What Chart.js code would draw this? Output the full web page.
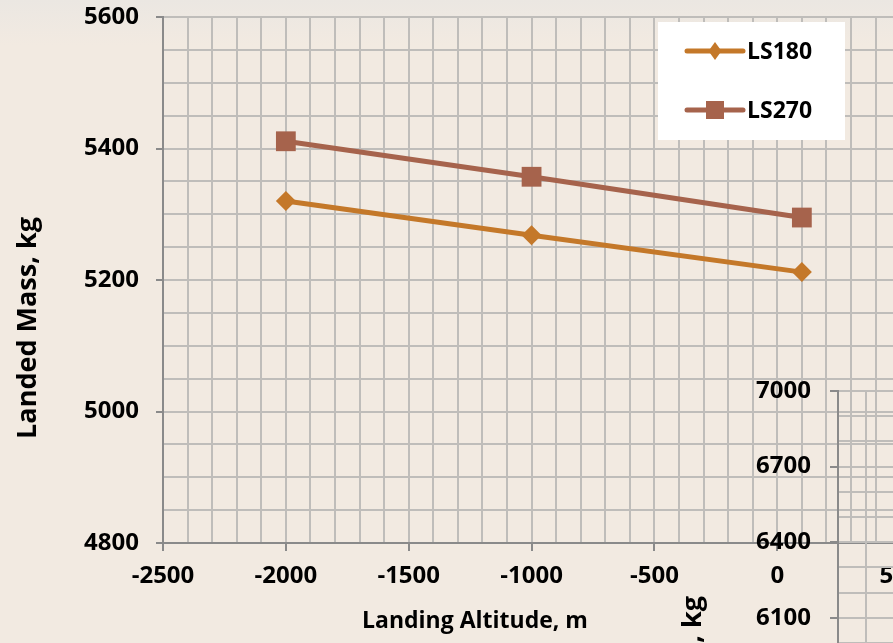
<!DOCTYPE html>
<html>
<head>
<meta charset="utf-8">
<script src="https://cdn.jsdelivr.net/npm/chart.js@4.4.1/dist/chart.umd.min.js"></script>
<style>
  html, body { margin: 0; padding: 0; width: 893px; height: 643px; overflow: hidden; }
  body { position: relative; background: linear-gradient(#ebe7e2 0px, #f2eae1 45px); }
  #main { position: absolute; left: 0; top: 0; }
  #inset { position: absolute; left: 674px; top: 371px; }
</style>
</head>
<body>
<canvas id="main" width="1037" height="643"></canvas>
<canvas id="inset" width="332" height="272"></canvas>
<script>
// Data
const altitudes = [-2000, -1000, 100];
const seriesNames = ['LS180', 'LS270'];
const ls180Mass = [5320, 5268, 5212];
const ls270Mass = [5411, 5357, 5295];
const seriesValues = [ls180Mass, ls270Mass];

// Axis ranges and tick steps
const xRange = [-2500, 1000];
const xGridStep = 100, xLabelStep = 500;
const yRange = [4800, 5600];
const yGridStep = 50, yLabelStep = 200;
const insetYRange = [6000, 7000];
const insetGridStep = 100, insetLabelStep = 300;

// Styles
const seriesColors = ['#c47829', '#a6634c'];
const seriesMarkers = ['rectRot', 'rect'];
const markerRadius = [10, 14];
const GRID = '#bfbdba';
const AXIS = '#8a8a8a';
const FONT = '"Open Sans", Lato, sans-serif';

Chart.defaults.font.family = FONT;
Chart.defaults.font.weight = 'bold';
Chart.defaults.font.size = 24;
Chart.defaults.color = '#000';

const isStep = (v, step, base) => Math.abs(((v - base) % step + step) % step) < 1e-6;
// keep the plot edges where they are, labels may hang over
const noOverhang = s => { s.paddingTop = 0; s.paddingBottom = 0; s.paddingLeft = 0; s.paddingRight = 0; };

// Draws text titles at fixed spots (Excel-like placement)
const freeTitles = {
  id: 'freeTitles',
  afterDraw(chart, args, opts) {
    const ctx = chart.ctx;
    (opts.items || []).forEach(t => {
      ctx.save();
      ctx.font = 'bold ' + (t.size || 23) + 'px ' + FONT;
      ctx.fillStyle = '#000';
      ctx.textAlign = 'center';
      ctx.textBaseline = 'middle';
      ctx.translate(t.x, t.y);
      if (t.rotate) ctx.rotate(-Math.PI / 2);
      ctx.fillText(t.text, 0, 0);
      ctx.restore();
    });
  }
};

// Legend box inside the plot
const boxLegend = {
  id: 'boxLegend',
  afterDraw(chart, args, opts) {
    if (!opts.display) return;
    const ctx = chart.ctx;
    ctx.save();
    ctx.fillStyle = '#fff';
    ctx.fillRect(opts.x, opts.y, opts.w, opts.h);
    chart.data.datasets.forEach((ds, i) => {
      const cy = opts.y + 29 + i * 59;
      const x0 = opts.x + 29, x1 = opts.x + 85, cx = (x0 + x1) / 2;
      ctx.strokeStyle = ds.borderColor;
      ctx.lineWidth = 5;
      ctx.lineCap = 'round';
      ctx.beginPath(); ctx.moveTo(x0, cy); ctx.lineTo(x1, cy); ctx.stroke();
      ctx.fillStyle = ds.borderColor;
      ctx.beginPath();
      if (ds.pointStyle === 'rectRot') {
        ctx.moveTo(cx, cy - 9); ctx.lineTo(cx + 6.5, cy); ctx.lineTo(cx, cy + 9); ctx.lineTo(cx - 6.5, cy);
        ctx.closePath();
      } else {
        ctx.rect(cx - 9, cy - 9, 18, 18);
      }
      ctx.fill();
      ctx.fillStyle = '#000';
      ctx.font = 'bold 23px ' + FONT;
      ctx.textAlign = 'left';
      ctx.textBaseline = 'middle';
      ctx.fillText(ds.label, x1 + 4, cy + 1);
    });
    ctx.restore();
  }
};

new Chart(document.getElementById('main'), {
  type: 'line',
  data: {
    datasets: seriesNames.map((name, i) => ({
      label: name,
      data: altitudes.map((x, j) => ({ x: x, y: seriesValues[i][j] })),
      borderColor: seriesColors[i],
      backgroundColor: seriesColors[i],
      borderWidth: 5,
      tension: 0,
      pointStyle: seriesMarkers[i],
      pointRadius: markerRadius[i],
      pointBorderWidth: 0,
      pointBackgroundColor: seriesColors[i]
    }))
  },
  options: {
    responsive: false,
    animation: false,
    layout: { padding: { left: 0, top: 17, right: 0, bottom: 0 } },
    plugins: {
      legend: { display: false },
      tooltip: { enabled: false },
      boxLegend: { display: true, x: 658, y: 22, w: 187, h: 118 },
      freeTitles: { items: [
        { text: 'Landed Mass, kg', x: 28, y: 328, rotate: true, size: 27 },
        { text: 'Landing Altitude, m', x: 475, y: 621 }
      ] }
    },
    scales: {
      x: {
        type: 'linear', min: xRange[0], max: xRange[1],
        ticks: {
          stepSize: xGridStep, autoSkip: false, maxRotation: 0, padding: 11,
          callback: v => isStep(v, xLabelStep, 0) ? String(v) : ''
        },
        grid: {
          color: GRID, lineWidth: 2, tickLength: 8,
          tickColor: c => (c.tick && isStep(c.tick.value, xLabelStep, 0)) ? AXIS : 'rgba(0,0,0,0)'
        },
        border: { color: AXIS, width: 2 },
        afterFit: s => { s.height = 100; noOverhang(s); }
      },
      y: {
        type: 'linear', min: yRange[0], max: yRange[1],
        ticks: {
          stepSize: yGridStep, autoSkip: false, padding: 17,
          callback: v => isStep(v, yLabelStep, 0) ? String(v) : ''
        },
        grid: {
          color: GRID, lineWidth: 2, tickLength: 7,
          tickColor: c => (c.tick && isStep(c.tick.value, yLabelStep, 0)) ? AXIS : 'rgba(0,0,0,0)'
        },
        border: { color: AXIS, width: 2 },
        afterFit: s => { s.width = 163; noOverhang(s); }
      }
    }
  },
  plugins: [boxLegend, freeTitles]
});

// Second chart peeking in at the lower right
new Chart(document.getElementById('inset'), {
  type: 'line',
  data: { datasets: [] },
  options: {
    responsive: false,
    animation: false,
    layout: { padding: { left: 0, top: 20, right: 0, bottom: 0 } },
    plugins: {
      legend: { display: false },
      tooltip: { enabled: false },
      freeTitles: { items: [{ text: 'Landed Mass, kg', x: 19, y: 336, rotate: true, size: 27 }] }
    },
    scales: {
      x: {
        type: 'linear', min: 0, max: 6,
        ticks: { display: false, stepSize: 1 },
        grid: { color: GRID, lineWidth: 2, drawTicks: false },
        border: { display: false },
        afterFit: s => { s.height = 0; noOverhang(s); }
      },
      y: {
        type: 'linear', min: insetYRange[0], max: insetYRange[1],
        ticks: {
          stepSize: insetGridStep, autoSkip: false, padding: 19,
          callback: v => isStep(v, insetLabelStep, insetYRange[1]) ? String(v) : ''
        },
        grid: {
          color: GRID, lineWidth: 2, tickLength: 8,
          tickColor: c => (c.tick && isStep(c.tick.value, insetLabelStep, insetYRange[1])) ? AXIS : 'rgba(0,0,0,0)'
        },
        border: { color: AXIS, width: 2 },
        afterFit: s => { s.width = 164; noOverhang(s); }
      }
    }
  },
  plugins: [freeTitles]
});
</script>
</body>
</html>
